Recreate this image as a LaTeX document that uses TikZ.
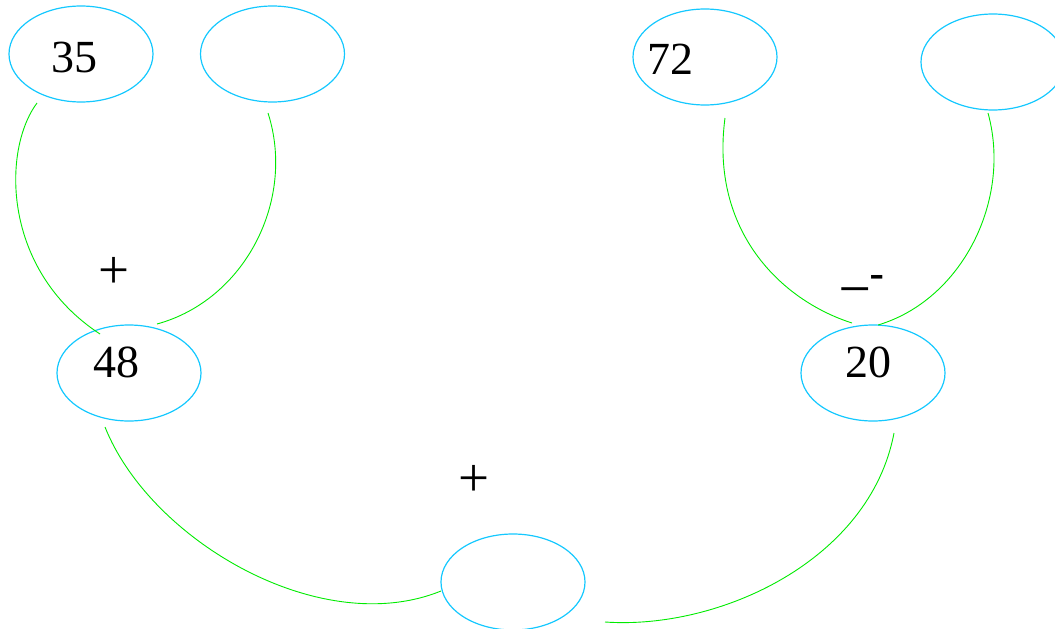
\documentclass[tikz,border=0pt]{standalone}
\usepackage{fontspec}
\setmainfont{Liberation Serif}
\newfontfamily\sansf{Liberation Sans}
\usetikzlibrary{shapes.geometric}
\definecolor{ellc}{RGB}{20,200,255}
\definecolor{arcc}{RGB}{0,235,0}
\begin{document}
\begin{tikzpicture}[x=1pt,y=-1pt,
  oval/.style={ellipse,draw=ellc,line width=1.2pt,minimum width=144pt,minimum height=96pt,inner sep=0pt},
  num/.style={font=\fontsize{46}{50}\selectfont,inner sep=0pt},
  op/.style={font=\fontsize{55}{60}\selectfont,inner sep=0pt},
  mop/.style={anchor=base west,inner sep=0pt,font=\sansf\fontsize{46}{50}\selectfont},
  arc/.style={draw=arcc,line width=0.9pt}]
\useasboundingbox (0,0) rectangle (1055,629);
% ellipses
\node[oval] (e35) at (81,54) {};
\node[oval] (ea) at (272.5,54) {};
\node[oval] (e72) at (705,57) {};
\node[oval] (eb) at (993,62) {};
\node[oval] (e48) at (129,373) {};
\node[oval] (e20) at (873,373) {};
\node[oval] (ec) at (513,582) {};
% numbers
\node[num] (t35) at (74,57) {35};
\node[num] (t72) at (670,59) {72};
\node[num] (t48) at (116,362) {48};
\node[num] (t20) at (868,362) {20};
% operators
\node[op] (p1) at (114.5,272.5) {+};
\node[op] (p2) at (474.5,480.5) {+};
\node[mop] (m1) at (842,281) {\_};
\node[mop] (m2) at (869,289) {-};
% arc end points
\coordinate (a1) at (37,103);
\coordinate (a2) at (100,334);
\coordinate (a3) at (268,113);
\coordinate (a4) at (157,324);
\coordinate (b1) at (725,118);
\coordinate (b2) at (852,323);
\coordinate (b3) at (988,113);
\coordinate (b4) at (878,325);
\coordinate (c1) at (105,427);
\coordinate (c2) at (441,591);
\coordinate (c3) at (894,433);
\coordinate (c4) at (605,622);
% arcs
\draw[arc] (a1) .. controls (2,150) and (2,270) .. (a2);
\draw[arc] (a3) .. controls (296,200) and (245,300) .. (a4);
\draw[arc] (b1) .. controls (710,230) and (780,300) .. (b2);
\draw[arc] (b3) .. controls (1012,200) and (962,300) .. (b4);
\draw[arc] (c1) .. controls (150,540) and (320,640) .. (c2);
\draw[arc] (c3) .. controls (870,560) and (720,630) .. (c4);
\end{tikzpicture}
\end{document}
